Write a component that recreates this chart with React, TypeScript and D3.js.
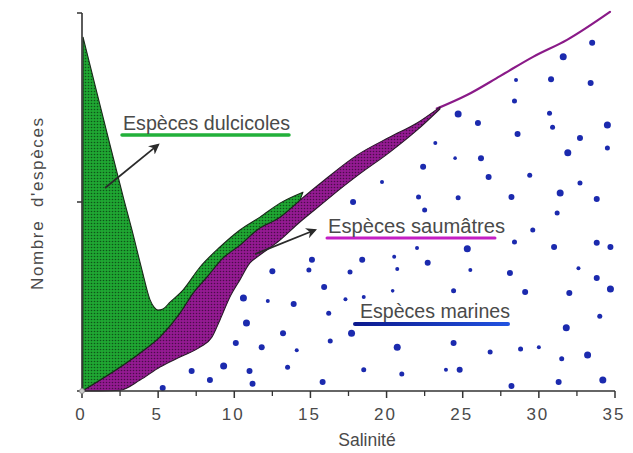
import React from "react";
import * as d3 from "d3";

const W = 633;
const H = 453;

// Axis ticks
const xMajorTicks = [0, 5, 10, 15, 20, 25, 30, 35];
const xMinorTicks = [2.5, 7.5, 12.5, 17.5, 22.5, 27.5, 32.5];
const yTicks = [0, 50, 100];

// Freshwater species (green) outer edge: salinity / number of species
const dulciSal = [0.07, 0.72, 1.64, 2.76, 3.28, 3.94, 4.47, 4.73, 4.99, 5.32, 5.78, 6.63, 7.75, 9.06, 10.37, 11.69, 13.0, 14.51];
const dulciNum = [93.6, 83.1, 68.3, 50.5, 42.6, 32.0, 24.1, 22.2, 21.4, 21.7, 23.5, 26.7, 32.8, 38.1, 42.6, 46.0, 49.7, 52.6];

// Brackish species (magenta) band: upper and lower edges
const saumUpperSal = [0.13, 3.81, 5.12, 6.43, 7.29, 8.21, 9.26, 10.37, 11.49, 13.0, 14.31, 15.76, 18.06, 20.22, 22.0, 23.5];
const saumUpperNum = [0.3, 10.05, 14.3, 20.6, 25.9, 30.2, 35.2, 38.6, 42.6, 46.0, 50.5, 55.3, 62.4, 67.2, 70.9, 75.1];
const saumLowerSal = [0.07, 1.2, 2.5, 3.81, 5.12, 6.43, 7.75, 8.54, 9.06, 9.72, 10.37, 11.03, 11.49, 13.0, 14.31, 15.82, 16.94, 18.06, 20.22, 22.0, 23.5];
const saumLowerNum = [0, 0, 0.2, 2.9, 6.35, 9.0, 11.6, 14.3, 18.8, 24.9, 29.4, 33.9, 35.4, 39.9, 44.7, 49.7, 53.4, 56.9, 63.2, 69.0, 74.6];
// Thin brackish line continuing to high salinity
const saumLineSal = [23.3, 25.28, 27.45, 29.62, 31.85, 34.67];
const saumLineNum = [74.7, 78.3, 83.3, 88.4, 92.9, 100.3];

// Marine species dots
const marineSal = [33.5, 31.6, 28.5, 30.8, 33.4, 28.4, 24.7, 26.0, 30.7, 34.5, 28.6, 30.9, 23.2, 32.7, 34.5, 24.5, 26.2, 31.9, 22.4, 26.7, 29.4, 19.7, 32.7, 17.8, 22.1, 24.7, 28.2, 31.4, 33.8, 22.5, 31.2, 29.6, 28.4, 31.0, 33.8, 34.7, 22.0, 25.3, 15.1, 14.9, 18.4, 20.5, 22.7, 20.7, 17.6, 25.5, 28.1, 32.6, 33.8, 15.9, 20.4, 24.4, 29.1, 32.0, 34.7, 17.3, 18.5, 16.2, 34.0, 17.7, 31.8, 16.3, 20.7, 24.4, 26.8, 28.8, 30.0, 31.5, 33.2, 18.5, 21.0, 23.9, 24.8, 15.8, 28.2, 31.3, 34.2, 12.5, 10.6, 12.2, 13.9, 10.8, 13.2, 10.1, 11.8, 14.1, 7.2, 9.3, 11.0, 13.5, 8.4, 11.2, 5.3];
const marineNum = [92.1, 88.4, 82.3, 82.5, 81.5, 76.7, 73.3, 70.9, 73.5, 70.4, 68.0, 69.8, 65.6, 66.9, 64.3, 61.6, 61.6, 63.0, 59.3, 56.6, 57.1, 55.3, 55.0, 50.0, 51.3, 51.1, 51.3, 52.4, 50.8, 47.9, 47.1, 42.6, 39.4, 38.1, 39.2, 38.1, 37.8, 37.6, 34.7, 32.0, 34.7, 35.5, 33.9, 32.3, 31.5, 32.0, 31.2, 32.5, 29.9, 27.5, 26.5, 26.5, 26.2, 25.9, 27.0, 24.3, 24.9, 20.6, 19.8, 15.3, 16.7, 13.2, 11.6, 12.7, 10.3, 11.1, 11.6, 8.5, 9.5, 5.6, 4.5, 5.6, 5.6, 2.4, 1.3, 2.4, 2.9, 31.7, 24.6, 23.8, 23.0, 18.0, 15.3, 12.7, 11.6, 10.8, 5.3, 6.6, 5.3, 6.3, 2.9, 1.9, 0.8];
const marineSize = [3, 3.5, 2, 3, 3, 2.5, 3.5, 3, 2.5, 3.5, 3, 2.5, 2, 3, 2.5, 1.8, 3, 3.5, 3, 3, 2.5, 2, 2.5, 3, 2.5, 2.5, 3, 3.5, 3, 2.5, 2.5, 2.5, 2.5, 3, 3, 3, 2, 3.5, 3, 2.5, 3, 2, 3, 2, 2.5, 2, 3, 2, 3, 3, 1.8, 2.5, 3, 3, 3.5, 2, 2, 2.5, 2.5, 3.5, 3.5, 2.5, 3.5, 3, 2.5, 2.5, 2, 2.5, 3.5, 2.5, 2.5, 2, 3, 3, 3, 3, 3.5, 3, 3.5, 2, 3, 3.5, 3, 3, 3, 2, 3, 3.5, 3, 2.5, 3, 3, 3];

// Labels
const xAxisTitle = "Salinité";
const yAxisTitle = "Nombre  d'espèces";
const labelDulci = "Espèces dulcicoles";
const labelSaum = "Espèces saumâtres";
const labelMarine = "Espèces marines";

// Arrow anchor points (data units): [fromSal, fromNum, toSal, toNum]
const arrowDulci = [1.51, 53.7, 4.99, 65.1];
const arrowSaum = [11.36, 36.2, 15.3, 42.6];

const FONT = "'Liberation Sans', Arial, Helvetica, sans-serif";

export default function App() {
  const x = d3.scaleLinear().domain([0, 35]).range([82, 615]);
  const y = d3.scaleLinear().domain([0, 100]).range([391, 13]);

  const toPts = (s: number[], n: number[]) => s.map((v, i) => [x(v), y(n[i])] as [number, number]);
  const curve = d3.line<[number, number]>().curve(d3.curveMonotoneX);
  const cont = (p: [number, number][]) => "L" + (curve(p) as string).slice(1);

  const dulciPts = toPts(dulciSal, dulciNum);
  const upperPts = toPts(saumUpperSal, saumUpperNum);
  const lowerPts = toPts(saumLowerSal, saumLowerNum);

  const upperForGreen = upperPts.filter((_, i) => saumUpperSal[i] <= 14.31);
  const greenPath =
    `M${x(0.05)},${y(0.3)}` +
    cont(dulciPts) +
    cont([...upperForGreen].reverse()) +
    "Z";

  const magentaPath = (curve(upperPts) as string) + cont([...lowerPts].reverse()) + "Z";
  const saumLine = curve(toPts(saumLineSal, saumLineNum)) as string;

  const axisColor = "#333";
  const textColor = "#4a4a4a";

  return (
    <svg
      width={W}
      height={H}
      style={{ position: "absolute", left: 0, top: 0, background: "#fff" }}
      fontFamily={FONT}
    >
      <defs>
        <pattern id="halftone" width="3" height="3" patternUnits="userSpaceOnUse">
          <circle cx="1.5" cy="1.5" r="0.8" fill="#000" opacity="0.5" />
        </pattern>
        <marker id="arrowHead" viewBox="0 0 10 10" refX="8" refY="5" markerWidth="6" markerHeight="6" orient="auto">
          <path d="M0,0 L10,5 L0,10 L3,5 Z" fill="#2a2a2a" />
        </marker>
        <linearGradient id="blueLine" gradientUnits="userSpaceOnUse" x1={355} x2={508} y1={0} y2={0}>
          <stop offset="0" stopColor="#0c1a8e" />
          <stop offset="1" stopColor="#2152e0" />
        </linearGradient>
      </defs>

      <rect x={0} y={0} width={W} height={H} fill="#fff" />

      {/* marine dots */}
      {marineSal.map((s, i) => (
        <circle key={i} cx={x(s)} cy={y(marineNum[i])} r={marineSize[i]} fill="#1b2aae" />
      ))}

      {/* brackish band */}
      <path d={magentaPath} fill="#941a92" />
      <path d={magentaPath} fill="url(#halftone)" />
      <path d={saumLine} fill="none" stroke="#8a1a88" strokeWidth={2.2} strokeLinecap="round" />
      <path d={magentaPath} fill="none" stroke="#2a1a2a" strokeWidth={1.1} strokeLinejoin="round" />

      {/* freshwater band */}
      <path d={greenPath} fill="#1fa632" />
      <path d={greenPath} fill="url(#halftone)" />
      <path d={greenPath} fill="none" stroke="#1a2a1a" strokeWidth={1.1} strokeLinejoin="round" />

      {/* axes */}
      <line x1={x(0)} x2={x(35)} y1={y(0)} y2={y(0)} stroke={axisColor} strokeWidth={1.6} />
      <line x1={x(0)} x2={x(0)} y1={y(0)} y2={y(100)} stroke={axisColor} strokeWidth={1.6} />
      {yTicks.map((t) => (
        <line key={t} x1={x(0) - 5} x2={x(0)} y1={y(t)} y2={y(t)} stroke={axisColor} strokeWidth={1.5} />
      ))}
      {xMajorTicks.map((t) => (
        <line key={t} x1={x(t)} x2={x(t)} y1={y(0)} y2={y(0) + 7} stroke={axisColor} strokeWidth={1.5} />
      ))}
      {xMinorTicks.map((t) => (
        <line key={t} x1={x(t)} x2={x(t)} y1={y(0)} y2={y(0) + 5} stroke={axisColor} strokeWidth={1.3} />
      ))}
      <circle cx={x(0)} cy={y(0)} r={2.5} fill="#ccc" stroke="#888" strokeWidth={0.8} />
      {xMajorTicks.map((t) => (
        <text key={t} x={x(t) - 1} y={420} textAnchor="middle" fontSize={17} letterSpacing={2} fill={textColor}>
          {t}
        </text>
      ))}
      <text x={367} y={446} textAnchor="middle" fontSize={17.5} fill={textColor}>
        {xAxisTitle}
      </text>
      <text
        transform={`translate(43,204) rotate(-90)`}
        textAnchor="middle"
        fontSize={17}
        fill={textColor}
        textLength={172}
        lengthAdjust="spacing"
        style={{ whiteSpace: "pre" }}
      >
        {yAxisTitle}
      </text>

      {/* annotations */}
      <line
        x1={x(arrowDulci[0])} y1={y(arrowDulci[1])} x2={x(arrowDulci[2])} y2={y(arrowDulci[3])}
        stroke="#2a2a2a" strokeWidth={1.8} markerEnd="url(#arrowHead)"
      />
      <line
        x1={x(arrowSaum[0])} y1={y(arrowSaum[1])} x2={x(arrowSaum[2])} y2={y(arrowSaum[3])}
        stroke="#2a2a2a" strokeWidth={1.8} markerEnd="url(#arrowHead)"
      />

      <line x1={122} x2={289} y1={135} y2={135} stroke="#22b03a" strokeWidth={3.5} strokeLinecap="round" />
      <text x={123} y={130} fontSize={19.5} fill={textColor} textLength={167} lengthAdjust="spacingAndGlyphs">
        {labelDulci}
      </text>

      <line x1={327} x2={495} y1={238} y2={238} stroke="#c41ec4" strokeWidth={3} strokeLinecap="round" />
      <text x={328} y={233} fontSize={19.5} fill={textColor} textLength={177} lengthAdjust="spacingAndGlyphs">
        {labelSaum}
      </text>

      <line x1={355} x2={508} y1={324} y2={324} stroke="url(#blueLine)" strokeWidth={4} strokeLinecap="round" />
      <text x={360} y={318} fontSize={19.5} fill={textColor} textLength={150} lengthAdjust="spacingAndGlyphs">
        {labelMarine}
      </text>
    </svg>
  );
}
